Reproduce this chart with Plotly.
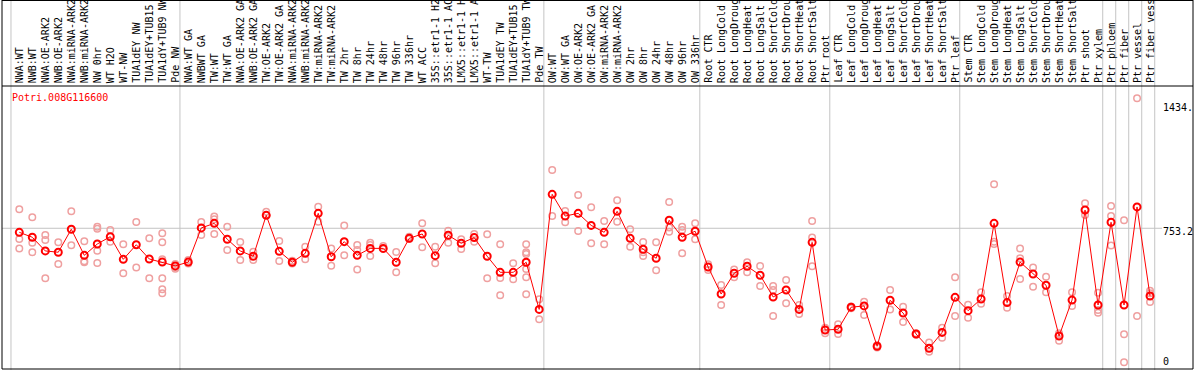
import plotly.graph_objects as go

# ---------------- data ----------------
gene = "Potri.008G116600"

samples = [
    "NWA:WT", "NWB:WT", "NWA:OE-ARK2", "NWB:OE-ARK2", "NWA:miRNA-ARK2", "NWB:miRNA-ARK2",
    "NW 0hr", "WT H2O", "WT-NW", "TUA1dEY NW", "TUA1dEY+TUB15 NW", "TUA1dY+TUB9 NW", "Pde NW",
    "NWA:WT GA", "NWBWT GA", "TW:WT", "TW:WT GA", "NWA:OE-ARK2 GA", "NWB:OE-ARK2 GA",
    "TW:OE-ARK2", "TW:OE-ARK2 GA", "NWA:miRNA-ARK2", "NWB:miRNA-ARK2", "TW:miRNA-ARK2",
    "TW:miRNA-ARK2", "TW 2hr", "TW 8hr", "TW 24hr", "TW 48hr", "TW 96hr", "TW 336hr", "WT ACC",
    "35S::etr1-1 H2O", "35S::etr1-1 ACC", "LMX5::etr1-1 H2O", "LMX5::etr1-1 ACC", "WT-TW",
    "TUA1dEY TW", "TUA1dEY+TUB15 TW", "TUA1dY+TUB9 TW", "Pde TW",
    "OW:WT", "OW:WT GA", "OW:OE-ARK2", "OW:OE-ARK2 GA", "OW:miRNA-ARK2", "OW:miRNA-ARK2",
    "OW 2hr", "OW 8hr", "OW 24hr", "OW 48hr", "OW 96hr", "OW 336hr",
    "Root CTR", "Root LongCold", "Root LongDrought", "Root LongHeat", "Root LongSalt",
    "Root ShortCold", "Root ShortDrought", "Root ShortHeat", "Root ShortSalt", "Ptr root",
    "Leaf CTR", "Leaf LongCold", "Leaf LongDrought", "Leaf LongHeat", "Leaf LongSalt",
    "Leaf ShortCold", "Leaf ShortDrought", "Leaf ShortHeat", "Leaf ShortSalt", "Ptr leaf",
    "Stem CTR", "Stem LongCold", "Stem LongDrought", "Stem LongHeat", "Stem LongSalt",
    "Stem ShortCold", "Stem ShortDrought", "Stem ShortHeat", "Stem ShortSalt", "Ptr shoot",
    "Ptr xylem", "Ptr phloem", "Ptr fiber", "Ptr vessel", "Ptr fiber vessel",
]

# group boundaries (index of first sample of each group, plus end)
group_starts = [0, 13, 41, 53, 63, 73, 84, 85, 86, 87, 88]

mean_values = [
    731, 704, 629, 622, 748, 605, 667, 707, 583, 663, 585, 568, 547,
    568, 755, 780, 693, 629, 600, 824, 627, 567, 616, 835, 597, 680, 605, 643, 643,
    567, 698, 722, 603, 715, 671, 702, 600, 512, 512, 567, 309,
    939, 820, 835, 769, 731, 846, 698, 638, 589, 797, 704, 737,
    541, 393, 507, 545, 496, 377, 415, 309, 676, 196,
    200, 321, 328, 107, 359, 289, 174, 96, 183, 375,
    302, 366, 780, 346, 568, 503, 441, 163, 360, 853, 333,
    786, 333, 870, 382,
]

replicate_values = [
    [857, 694, 643], [813, 674, 622], [716, 689, 479], [676, 558], [846, 660],
    [682, 572, 567], [762, 751, 630, 563], [744, 680], [665, 507], [787, 539],
    [698, 479], [726, 676, 583, 479, 419, 397], [558, 539, 532],
    [579, 560], [787, 716], [817, 802, 722], [762, 634], [678, 579], [625, 579],
    [844, 826], [683, 574], [560, 575], [652, 583], [871, 789], [643, 548],
    [769, 605], [662, 634, 528], [674, 662, 601], [656, 640], [623, 512],
    [707, 695], [780, 649], [652, 561], [740, 674], [693, 640], [722, 680],
    [720, 479], [665, 481, 386], [561, 474], [665, 622, 612, 530, 485, 392],
    [364, 255],
    [1072, 820], [848, 786], [935, 738], [868, 671], [793, 665], [906, 789],
    [748, 652], [678, 622, 601], [676, 523], [897, 758, 734], [762, 744, 616],
    [780, 693],
    [556, 525], [443, 333], [528, 485], [567, 512], [547, 437], [437, 415, 273],
    [470, 342], [333, 284], [793, 702, 545], [209, 178],
    [227, 174], [315, 325], [351, 278], [100, 112], [415, 309], [324, 240],
    [170, 178], [127, 77], [209, 154], [485, 273],
    [335, 263], [403, 340], [994, 680, 667], [382, 318], [643, 589, 475],
    [539, 433], [488, 403], [178, 137], [403, 328], [890, 826], [400, 306, 291],
    [875, 820, 659], [797, 173, 19], [1465, 273], [411, 397, 349],
]

mean_line_value = 753.2
axis_labels = ["0", "753.2", "1434."]
axis_label_values = [0, 753.2, 1434]

# ---------------- layout helpers ----------------
W, H = 1194, 370
def px_x(p):
    return p / W
def px_y(p):
    return 1 - p / H

X_OFF = 0.64  # slot boundary offset relative to sample position

n = len(samples)
xs = list(range(n))

rep_x, rep_y = [], []
for i, reps in enumerate(replicate_values):
    for v in reps:
        rep_x.append(i)
        rep_y.append(v)

fig = go.Figure()
fig.add_trace(go.Scatter(
    x=rep_x, y=rep_y, mode="markers",
    marker=dict(symbol="circle-open", size=6.5, color="#efa0a0", line=dict(width=1.5, color="#efa0a0")),
    hoverinfo="skip", showlegend=False,
))
fig.add_trace(go.Scatter(
    x=xs, y=mean_values, mode="lines+markers",
    line=dict(color="#ff0000", width=1),
    marker=dict(symbol="circle-open", size=7, color="#ff0000", line=dict(width=2, color="#ff0000")),
    showlegend=False,
))

shapes = []
# group separators (full height)
for k in group_starts:
    shapes.append(dict(type="line", xref="x", yref="paper", x0=k - X_OFF, x1=k - X_OFF,
                       y0=0, y1=1, line=dict(color="#c4c4c4", width=1), layer="below"))
# mean gridline
shapes.append(dict(type="line", xref="paper", yref="y", x0=px_x(2), x1=px_x(1162),
                   y0=mean_line_value, y1=mean_line_value,
                   line=dict(color="#c4c4c4", width=1), layer="below"))
# black frame
for (x0, y0, x1, y1) in [(2, 0.5, 1193, 0.5), (2, 86, 1193, 86), (2, 369, 1193, 369),
                         (2, 0, 2, 369), (1193, 0, 1193, 369)]:
    shapes.append(dict(type="line", xref="paper", yref="paper",
                       x0=px_x(x0), x1=px_x(x1), y0=px_y(y0), y1=px_y(y1),
                       line=dict(color="black", width=1)))

font = "DejaVu Sans Mono"
annotations = []
for i, s in enumerate(samples):
    annotations.append(dict(
        x=i, xref="x", y=px_y(84), yref="paper", text=s, showarrow=False,
        textangle=-90, xanchor="center", yanchor="bottom",
        font=dict(family=font, size=10, color="black"), borderpad=0,
    ))
annotations.append(dict(
    x=px_x(10), xref="paper", y=px_y(97), yref="paper", text=gene, showarrow=False,
    xanchor="left", yanchor="middle", font=dict(family=font, size=10, color="#ff0000"),
))
for lab, v in zip(axis_labels, axis_label_values):
    annotations.append(dict(
        x=px_x(1162), xref="paper", y=v, yref="y", text=lab, showarrow=False,
        xanchor="left", yanchor="top" if v > 0 else "middle", yshift=3 if v > 0 else 4,
        font=dict(family=font, size=10, color="black"), borderpad=0,
    ))

# pixel mapping: sample i at pixel 19.3 + 12.997*i; value 0 at pixel 365.8, 0.1826 px/unit
x_lo = -19.3 / 12.997
x_hi = (W - 19.3) / 12.997
y_lo = (365.8 - 369) / 0.1826
y_hi = (365.8 - 86) / 0.1826

fig.update_layout(
    width=W, height=H,
    margin=dict(l=0, r=0, t=0, b=0, pad=0),
    paper_bgcolor="white", plot_bgcolor="white",
    xaxis=dict(range=[x_lo, x_hi], domain=[0, 1], visible=False, showgrid=False, zeroline=False),
    yaxis=dict(range=[y_lo, y_hi], domain=[px_y(369), px_y(86)], visible=False,
               showgrid=False, zeroline=False),
    shapes=shapes, annotations=annotations, showlegend=False,
)

fig.write_html(
    "out.html",
    config={"displayModeBar": False},
    post_script="document.body.style.margin='0';document.body.style.padding='0';"
                "document.body.style.overflow='hidden';",
)
